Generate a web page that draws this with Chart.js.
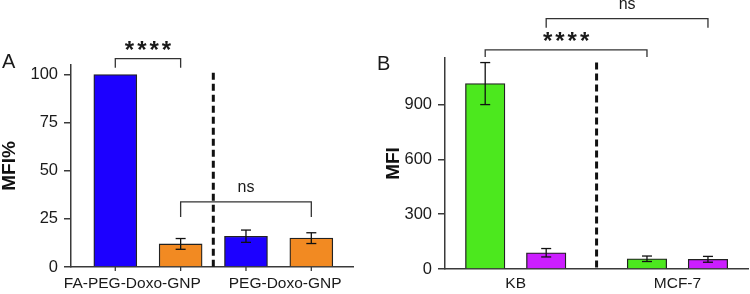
<!DOCTYPE html>
<html>
<head>
<meta charset="utf-8">
<script src="https://cdn.jsdelivr.net/npm/chart.js@4/dist/chart.umd.min.js"></script>
<style>
  body { margin: 0; background: #fff; }
  #wrap { position: relative; width: 750px; height: 294px; }
  canvas { position: absolute; top: 0; }
  #chartA { left: 0; }
  #chartB { left: 375px; }
</style>
</head>
<body>
<div id="wrap">
  <canvas id="chartA" width="375" height="294"></canvas>
  <canvas id="chartB" width="375" height="294"></canvas>
</div>
<script>
// panel A - normalised MFI
const groupsA = ['FA-PEG-Doxo-GNP', 'PEG-Doxo-GNP'];
const blueA = [100, 16];
const blueErrA = [0, 3.2];
const orangeA = [12, 15];
const orangeErrA = [2.8, 2.8];
const ticksA = [0, 25, 50, 75, 100];
const bracketsA = [
  { from: 0, to: 1, top: 108.3, leg: 103.6, label: '****' },
  { from: 1, to: 3, top: 33.9, leg: 26, label: 'ns' }
];

// panel B - raw MFI per cell line
const groupsB = ['KB', 'MCF-7'];
const greenB = [1015, 56];
const greenErrB = [115, 15];
const purpleB = [89, 53];
const purpleErrB = [23, 16];
const ticksB = [0, 300, 600, 900];
const bracketsB = [
  { from: 0, to: 2, top: 1200, leg: 1160, label: '****' },
  { from: 1, to: 3, top: 1370, leg: 1321, label: 'ns' }
];

const FONT = "'Liberation Sans', Arial, sans-serif";
const AXIS = '#3a3a3a';
const INK = '#1a1a1a';

function line(ctx, x1, y1, x2, y2) {
  ctx.beginPath();
  ctx.moveTo(x1, y1);
  ctx.lineTo(x2, y2);
  ctx.stroke();
}

function makePanel(id, cfg) {
  const half = cfg.inner / 2;
  const datasets = cfg.series.map((s, i) => ({
    data: s.values.map((v, j) => ({ x: j + 1 + (i === 0 ? -half : half), y: v })),
    backgroundColor: s.color,
    borderColor: '#222',
    borderWidth: 1.3,
    barThickness: cfg.barWidth,
    grouped: false
  }));

  const marks = {
    id: 'marks',
    afterDraw(chart) {
      const ctx = chart.ctx;
      const x = chart.scales.x;
      const y = chart.scales.y;
      const bars = [];
      chart.data.datasets.forEach((ds, i) => {
        chart.getDatasetMeta(i).data.forEach((el, j) => bars.push({ el, i, j }));
      });
      bars.sort((a, b) => a.el.x - b.el.x);
      ctx.save();

      // error bars
      ctx.strokeStyle = '#111';
      ctx.lineWidth = 1.3;
      bars.forEach(({ el, i, j }) => {
        const e = cfg.series[i].errors[j];
        if (!e) return;
        const v = cfg.series[i].values[j];
        const yt = y.getPixelForValue(v + e);
        const yb = y.getPixelForValue(v - e);
        line(ctx, el.x, yt, el.x, yb);
        line(ctx, el.x - 5, yt, el.x + 5, yt);
        line(ctx, el.x - 5, yb, el.x + 5, yb);
      });

      // small ticks under each bar (panel A only)
      if (cfg.barTicks) {
        ctx.strokeStyle = AXIS;
        ctx.lineWidth = 1.3;
        const y0 = y.getPixelForValue(0);
        bars.forEach(({ el }) => line(ctx, el.x, y0, el.x, y0 + 4));
      }

      // dashed divider between the two groups
      const dx = x.getPixelForValue(1.5);
      ctx.strokeStyle = '#111';
      ctx.lineWidth = 3;
      ctx.setLineDash([7, 4]);
      line(ctx, dx, y.getPixelForValue(cfg.dividerTop), dx, y.getPixelForValue(0));
      ctx.setLineDash([]);

      // significance brackets
      ctx.strokeStyle = '#333';
      ctx.lineWidth = 1.3;
      ctx.fillStyle = INK;
      ctx.textAlign = 'center';
      ctx.textBaseline = 'alphabetic';
      cfg.brackets.forEach(b => {
        const x1 = bars[b.from].el.x;
        const x2 = bars[b.to].el.x;
        const yt = y.getPixelForValue(b.top);
        const yl = y.getPixelForValue(b.leg);
        ctx.beginPath();
        ctx.moveTo(x1, yl);
        ctx.lineTo(x1, yt);
        ctx.lineTo(x2, yt);
        ctx.lineTo(x2, yl);
        ctx.stroke();
        if (b.label === 'ns') {
          ctx.font = '16px ' + FONT;
          ctx.letterSpacing = '0px';
          ctx.fillText(b.label, (x1 + x2) / 2, yt - 10);
        } else {
          ctx.font = 'bold 24px ' + FONT;
          ctx.letterSpacing = '3px';
          ctx.fillText(b.label, (x1 + x2) / 2 + 1.5, yt - 1);
        }
      });

      // panel letter
      ctx.letterSpacing = '0px';
      ctx.textAlign = 'left';
      ctx.font = '20px ' + FONT;
      ctx.fillText(cfg.letter, 2, cfg.letterY);
      ctx.restore();
    }
  };

  return new Chart(document.getElementById(id), {
    type: 'bar',
    data: { datasets },
    options: {
      responsive: false,
      animation: false,
      devicePixelRatio: 1,
      layout: { padding: { top: cfg.padTop, right: cfg.padRight, left: 0, bottom: 0 } },
      plugins: { legend: { display: false }, tooltip: { enabled: false } },
      scales: {
        x: {
          type: 'linear',
          offset: false,
          min: cfg.xMin,
          max: cfg.xMax,
          afterBuildTicks: s => {
            s.ticks = cfg.groups.map((g, i) => ({ value: i + 1 + cfg.labelShift[i] }));
          },
          afterFit: s => { s.height = cfg.xHeight; },
          ticks: {
            callback: (v, i) => cfg.groups[i],
            font: { family: FONT, size: 15.5 },
            color: INK,
            padding: cfg.labelPad,
            maxRotation: 0,
            autoSkip: false
          },
          grid: { display: false, drawTicks: false, offset: false },
          border: { color: AXIS, width: 1.5 }
        },
        y: {
          min: 0,
          max: cfg.yMax,
          afterBuildTicks: s => { s.ticks = cfg.ticks.map(v => ({ value: v })); },
          afterFit: s => { s.width = cfg.yWidth; },
          ticks: {
            font: { family: FONT, size: 16.5 },
            color: INK,
            padding: 6
          },
          grid: { display: true, drawOnChartArea: false, drawTicks: true, tickLength: 7, color: AXIS, lineWidth: 1.5 },
          border: { color: AXIS, width: 1.5 },
          title: {
            display: true,
            text: cfg.yTitle,
            font: { family: FONT, size: 19, weight: 'bold', lineHeight: 1 },
            color: '#111',
            padding: { top: cfg.titlePad, bottom: 0 }
          }
        }
      }
    },
    plugins: [marks]
  });
}

makePanel('chartA', {
  groups: groupsA,
  series: [
    { values: blueA, errors: blueErrA, color: '#1c00ff' },
    { values: orangeA, errors: orangeErrA, color: '#f28a22' }
  ],
  ticks: ticksA,
  brackets: bracketsA,
  yTitle: 'MFI%',
  letter: 'A',
  letterY: 68,
  yMax: 105,
  dividerTop: 101,
  inner: 0.5,
  barWidth: 43,
  xMin: 0.411,
  xMax: 2.569,
  padTop: 65,
  padRight: 22,
  xHeight: 27,
  yWidth: 71,
  titlePad: 0.5,
  labelPad: 7,
  labelShift: [-0.12, 0.05],
  barTicks: true
});

makePanel('chartB', {
  groups: groupsB,
  series: [
    { values: greenB, errors: greenErrB, color: '#4ce81e' },
    { values: purpleB, errors: purpleErrB, color: '#cc1eff' }
  ],
  ticks: ticksB,
  brackets: bracketsB,
  yTitle: 'MFI',
  letter: 'B',
  letterY: 70,
  yMax: 1155,
  dividerTop: 1130,
  inner: 0.377,
  barWidth: 39.5,
  xMin: 0.563,
  xMax: 2.436,
  padTop: 58,
  padRight: 2,
  xHeight: 25,
  yWidth: 70,
  titlePad: 9.5,
  labelPad: 5,
  labelShift: [0, 0],
  barTicks: false
});
</script>
</body>
</html>
